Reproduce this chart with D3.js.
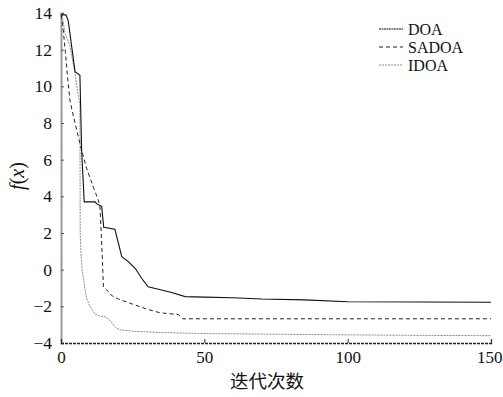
<!DOCTYPE html>
<html><head><meta charset="utf-8">
<script src="https://cdn.jsdelivr.net/npm/d3@7"></script>
<style>body{margin:0;background:#fff}svg{display:block}</style>
</head><body>
<script>
const seriesNames = ["DOA", "SADOA", "IDOA"];
const xTicks = [0, 50, 100, 150];
const yTicks = [-4, -2, 0, 2, 4, 6, 8, 10, 12, 14];
const doaIter = [0,1.7,2.5,4.9,6.6,7.2,8.1,11.9,12.4,14.2,14.9,18.8,21.2,23.5,26,28.1,30.4,34,38.6,43.3,50,60,70,85,100,150];
const doaVal  = [13.9,13.9,13.6,10.8,10.6,6.5,3.7,3.7,3.6,3.44,2.31,2.2,0.71,0.44,0.05,-0.47,-0.93,-1.07,-1.25,-1.47,-1.5,-1.53,-1.6,-1.65,-1.75,-1.78];
const sadoaIter = [0,0.7,1.5,2.3,3.1,4,5.5,7.2,9,11.3,13,13.6,14.2,14.8,15.9,18,20,24.1,29.9,34.5,40.9,42.5,150];
const sadoaVal  = [13.9,13.2,11.9,10.5,9.25,8.6,7.6,6.5,5.5,4.5,3.8,3.4,1.45,-0.95,-1.1,-1.45,-1.6,-1.83,-2.15,-2.35,-2.45,-2.68,-2.68];
const idoaIter = [0,0.7,1.4,3.1,4.9,5.9,6.6,6.7,7.0,7.4,8.4,9,10.1,11.9,13.5,15.5,17.3,19,20.5,25,35,48,80,120,150];
const idoaVal  = [14,13.6,12.9,12.2,10.7,9.6,9.0,2.0,0.8,0,-1.1,-1.6,-2.0,-2.42,-2.52,-2.58,-2.8,-3.15,-3.28,-3.36,-3.43,-3.48,-3.53,-3.58,-3.6];

const W=503,H=397;
const svg=d3.select("body").append("svg").attr("width",W).attr("height",H);
const x=d3.scaleLinear().domain([0,150]).range([61,491]);
const y=d3.scaleLinear().domain([-4,14]).range([343,13]);
const serif='"Liberation Serif","DejaVu Serif",serif';

const styles={
  DOA:{stroke:"#111",width:1.1,dash:null},
  SADOA:{stroke:"#222",width:1,dash:"4,3"},
  IDOA:{stroke:"#8c8c8c",width:1,dash:"2,1"}
};
const data={
  DOA:doaIter.map((d,i)=>[d,doaVal[i]]),
  SADOA:sadoaIter.map((d,i)=>[d,sadoaVal[i]]),
  IDOA:idoaIter.map((d,i)=>[d,idoaVal[i]])
};
const line=d3.line().x(d=>x(d[0])).y(d=>y(d[1]));

// axes
const yAxis=d3.axisLeft(y).tickValues(yTicks).tickSize(-3).tickPadding(9).tickFormat(d=>d<0?"\u2212"+Math.abs(d):d);
const gy=svg.append("g").attr("transform","translate(61,0)").call(yAxis);
gy.select(".domain").attr("stroke","#999").attr("stroke-width",2);
gy.selectAll(".tick line").attr("stroke","#555");
gy.selectAll("text").attr("font-family",serif).attr("font-size",17.5).attr("fill","#111");

const xAxis=d3.axisBottom(x).tickValues(xTicks).tickSize(-4).tickPadding(8);
const gx=svg.append("g").attr("transform","translate(0,343)").call(xAxis);
gx.select(".domain").attr("stroke","#222").attr("stroke-width",1.3).attr("stroke-dasharray","3,1");
gx.selectAll(".tick line").attr("stroke","#333");
gx.selectAll("text").attr("font-family",serif).attr("font-size",17).attr("fill","#111");
gx.selectAll(".tick").filter(d=>d===150).select("text").attr("text-anchor","end").attr("x",11);

// lines
["IDOA","SADOA","DOA"].forEach(k=>{
  const s=styles[k];
  svg.append("path").datum(data[k]).attr("d",line).attr("fill","none")
    .attr("stroke",s.stroke).attr("stroke-width",s.width)
    .attr("stroke-dasharray",s.dash);
});

// legend
const lg=svg.append("g");
seriesNames.forEach((k,i)=>{
  const yy=29+i*18;
  const s=styles[k];
  lg.append("line").attr("x1",379).attr("x2",403).attr("y1",yy).attr("y2",yy)
    .attr("stroke",s.stroke).attr("stroke-width",s.width).attr("stroke-dasharray",k==="DOA"?"2,0.5":s.dash);
  lg.append("text").attr("x",408).attr("y",yy+5.5).text(k)
    .attr("font-family",serif).attr("font-size",16).attr("fill","#111");
});

// titles
svg.append("text").attr("x",267).attr("y",388).attr("text-anchor","middle")
  .attr("font-family",'"Noto Sans CJK SC",sans-serif').attr("font-size",18.5).attr("fill","#111").text("迭代次数");
const yt=svg.append("text").attr("transform","translate(24,176) rotate(-90)").attr("text-anchor","middle")
  .attr("font-family",serif).attr("font-size",20).attr("fill","#111");
yt.append("tspan").attr("font-style","italic").text("f");
yt.append("tspan").text("(");
yt.append("tspan").attr("font-style","italic").text("x");
yt.append("tspan").text(")");
</script>
</body></html>
